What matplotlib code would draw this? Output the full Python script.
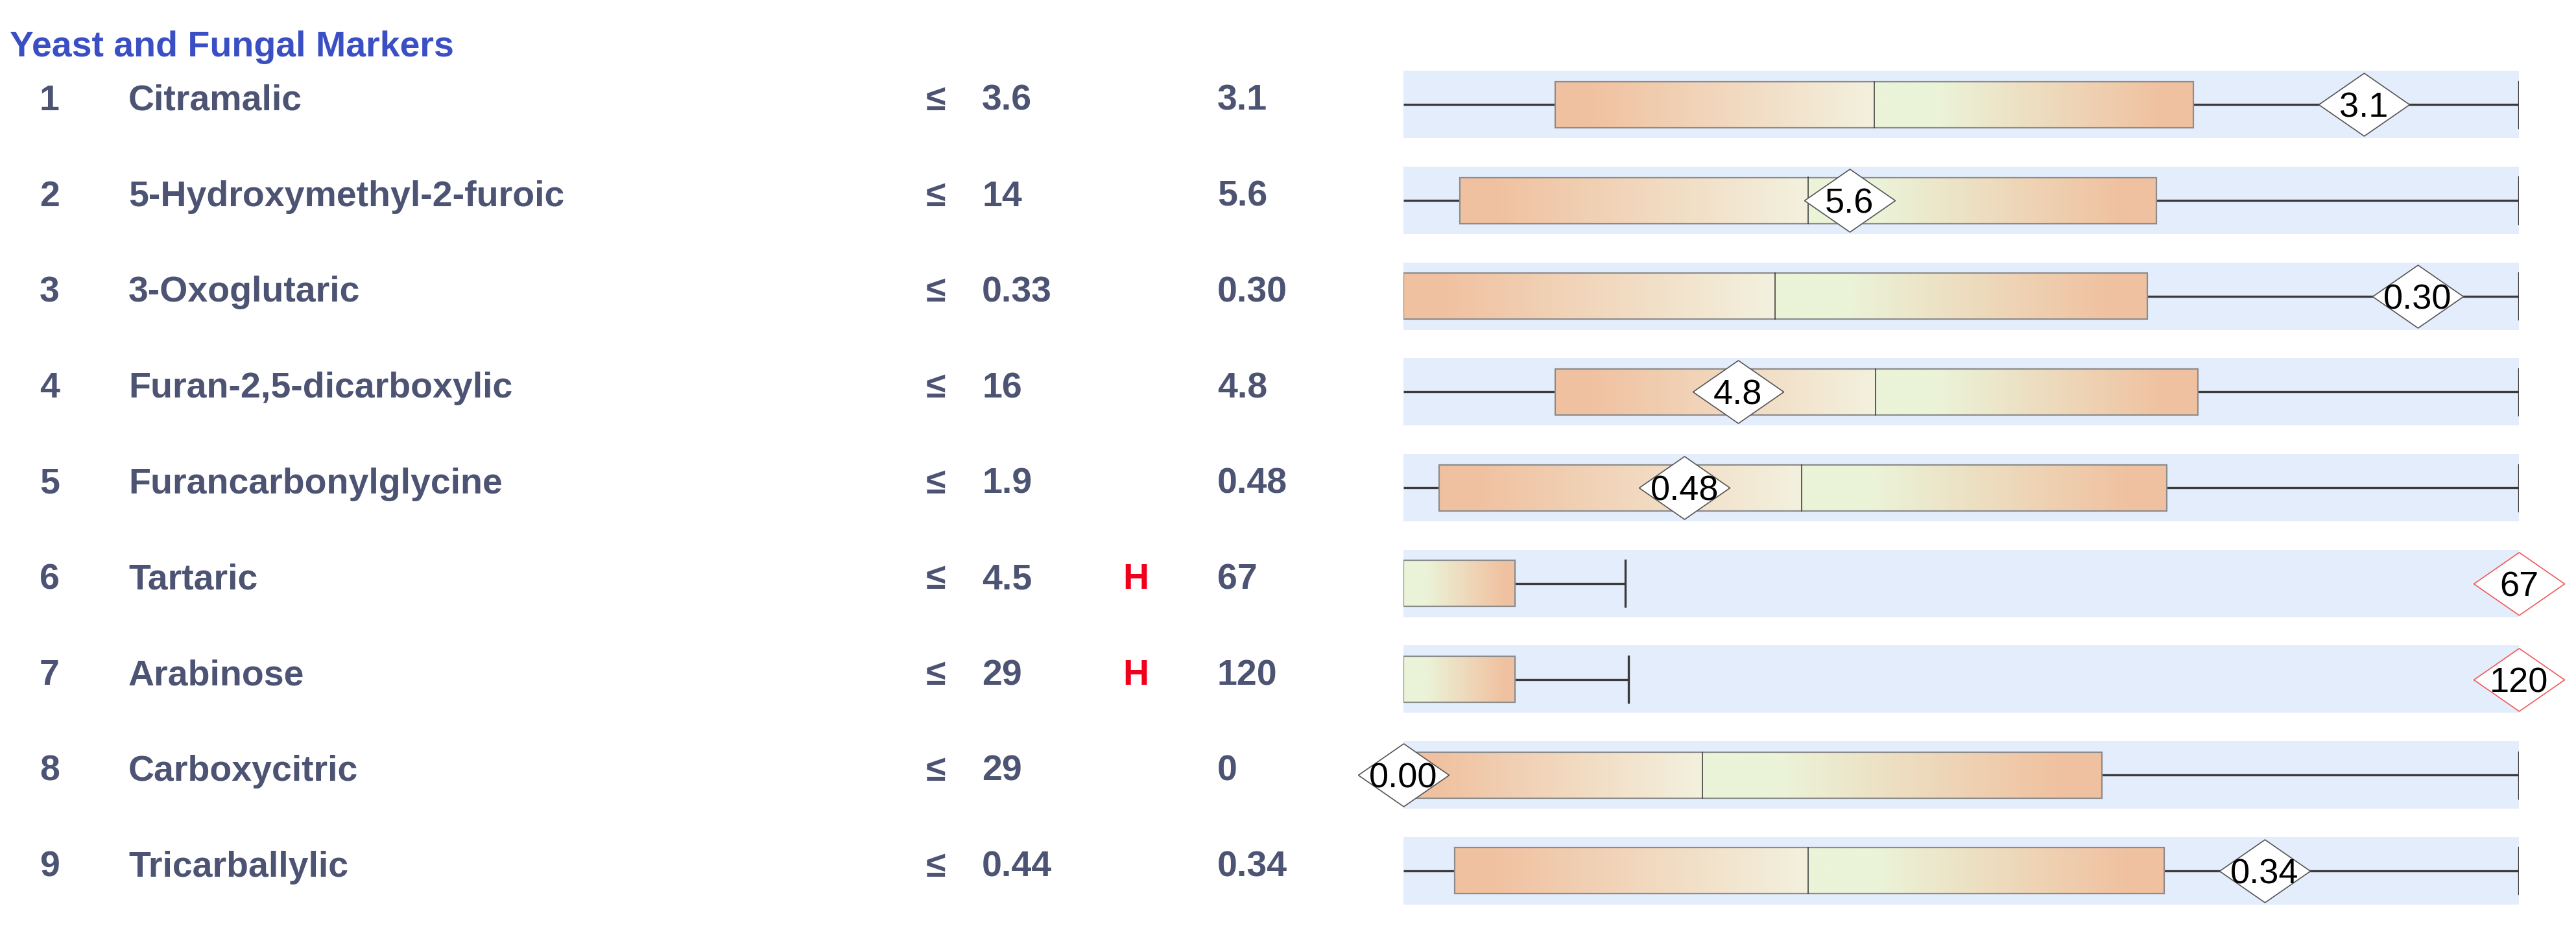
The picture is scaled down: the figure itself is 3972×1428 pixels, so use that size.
import matplotlib
matplotlib.use("Agg")
import matplotlib.pyplot as plt
import numpy as np
from matplotlib.colors import LinearSegmentedColormap
from matplotlib.patches import Rectangle
from matplotlib.transforms import blended_transform_factory

plt.rcParams['font.family'] = ['Liberation Sans', 'DejaVu Sans']

title = "Yeast and Fungal Markers"
names = ["Citramalic", "5-Hydroxymethyl-2-furoic", "3-Oxoglutaric",
         "Furan-2,5-dicarboxylic", "Furancarbonylglycine", "Tartaric",
         "Arabinose", "Carboxycitric", "Tricarballylic"]
limits = ["3.6", "14", "0.33", "16", "1.9", "4.5", "29", "29", "0.44"]
flags = ["", "", "", "", "", "H", "H", "", ""]
results = ["3.1", "5.6", "0.30", "4.8", "0.48", "67", "120", "0", "0.34"]
marker_labels = ["3.1", "5.6", "0.30", "4.8", "0.48", "67", "120", "0.00", "0.34"]

# box stats, in percent of the reference band
whisker_lo = [0, 0, 0, 0, 0, 0, 0, 0, 0]
q1 = [13.6, 5.1, 0, 13.6, 3.2, 0, 0, 0, 4.6]
median = [42.2, 36.3, 33.3, 42.3, 35.7, 0, 0, 26.8, 36.3]
q3 = [70.8, 67.5, 66.7, 71.2, 68.4, 10.0, 10.0, 62.6, 68.2]
whisker_hi = [100, 100, 100, 100, 100, 19.9, 20.2, 100, 100]
marker_pos = [86.1, 40.0, 90.9, 30.0, 25.2, 100, 100, 0, 77.2]

W, H = 3972, 1428
ROW0, ROWSTEP = 161.3, 147.7
BAND_L, BAND_R = 2163.7, 3884.3

text_col = '#4d5473'
orange = '#f0c1a0'
cream = '#f3f1de'
green = '#ebf3d8'
band_col = '#e4edfc'

left_cmap = LinearSegmentedColormap.from_list(
    'lh', [(0, orange), (0.1, orange), (1, cream)])
right_cmap = LinearSegmentedColormap.from_list(
    'rh', [(0, green), (0.2, green), (0.9, orange), (1, orange)])
grad = np.linspace(0, 1, 256).reshape(1, -1)

fig = plt.figure(figsize=(W / 100, H / 100), dpi=100)
ax = fig.add_axes([BAND_L / W, 0, (BAND_R - BAND_L) / W, 1])
ax.axis('off')

band_half = 52 / ROWSTEP
box_half = 35.5 / ROWSTEP
digit_off = 19.5 / ROWSTEP

diamond = [(-70, 0), (0, 48.5), (70, 0), (0, -48.5), (-70, 0)]

for r in range(len(names)):
    ax.add_patch(Rectangle((0, r - band_half), 100, 2 * band_half,
                           facecolor=band_col, edgecolor='none', zorder=0))
    # whiskers
    if q1[r] > whisker_lo[r]:
        ax.plot([whisker_lo[r], q1[r]], [r, r], color='#3a3a3a', lw=2.4,
                solid_capstyle='butt', zorder=1)
    ax.plot([q3[r], whisker_hi[r]], [r, r], color='#3a3a3a', lw=2.4,
            solid_capstyle='butt', zorder=1)
    ax.plot([whisker_hi[r], whisker_hi[r]], [r - box_half, r + box_half],
            color='#3a3a3a', lw=2.4, zorder=1)
    # box with gradient halves
    if median[r] > q1[r]:
        ax.imshow(grad, extent=[q1[r], median[r], r + box_half, r - box_half],
                  cmap=left_cmap, aspect='auto', interpolation='bilinear', zorder=2)
    if q3[r] > median[r]:
        ax.imshow(grad, extent=[median[r], q3[r], r + box_half, r - box_half],
                  cmap=right_cmap, aspect='auto', interpolation='bilinear', zorder=2)
    ax.add_patch(Rectangle((q1[r], r - box_half), q3[r] - q1[r], 2 * box_half,
                           facecolor='none', edgecolor='#8c8c8c', lw=1.6, zorder=3))
    if median[r] > q1[r]:
        ax.plot([median[r], median[r]], [r - box_half, r + box_half],
                color='#333333', lw=1.1, zorder=3)
    # result marker
    edge = '#ee5a5a' if flags[r] else '#555555'
    ax.plot([marker_pos[r]], [r], marker=diamond, ms=100.8, mfc='white',
            mec=edge, mew=1.2, clip_on=False, zorder=4)
    ax.text(marker_pos[r], r + digit_off, marker_labels[r], fontsize=39,
            color='black', ha='center', va='baseline', clip_on=False, zorder=5)

ax.set_xlim(0, 100)
ax.set_ylim((H - ROW0) / ROWSTEP, -ROW0 / ROWSTEP)

tr = blended_transform_factory(fig.transFigure, ax.transData)
off = 8.7 / ROWSTEP
for r in range(len(names)):
    y = r + off
    kw = dict(transform=tr, fontsize=40, fontweight='bold', va='baseline')
    ax.text(61 / W, y, str(r + 1), color=text_col, **kw)
    ax.text(198 / W, y, names[r], color=text_col, **kw)
    ax.text(1428 / W, y, "\u2264", color=text_col, **kw)
    ax.text(1514 / W, y, limits[r], color=text_col, **kw)
    if flags[r]:
        ax.text(1731 / W, y, flags[r], color='#f0001c', **kw)
    ax.text(1877 / W, y, results[r], color=text_col, **kw)

fig.text(15 / W, 1 - 87 / H, title, color='#3b4fc4', fontsize=40,
         fontweight='bold', va='baseline')

fig.savefig('out.png', dpi=100, facecolor='white')
